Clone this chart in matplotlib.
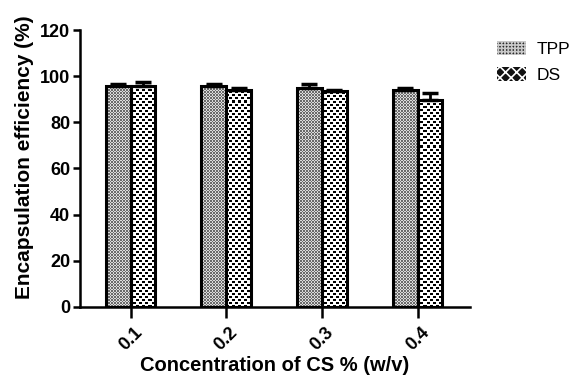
import matplotlib.pyplot as plt
import numpy as np

plt.rcParams['font.family'] = ['Liberation Sans', 'DejaVu Sans']
plt.rcParams['hatch.linewidth'] = 1.2

categories = ['0.1', '0.2', '0.3', '0.4']
tpp = [95.8, 95.9, 95.0, 94.0]
tpp_err = [1.0, 0.5, 1.5, 0.8]
ds = [95.8, 94.2, 93.4, 89.8]
ds_err = [1.6, 0.6, 0.8, 3.0]

fig = plt.figure(figsize=(5.79, 3.85), dpi=100)
ax = fig.add_axes([0.138, 0.203, 0.674, 0.719])

x = np.arange(len(categories))
w = 0.26

ax.set_xlim(-0.53, 3.55)
ax.set_ylim(0, 120)

b1 = ax.bar(x - w / 2, tpp, w, color='#a8a8a8', linewidth=0, label='TPP', zorder=2)
b2 = ax.bar(x + w / 2, ds, w, color='white', linewidth=0, label='DS', zorder=2)


def fill_pattern(bar, kind):
    # texture image clipped to the bar, one array cell per screen pixel
    x0, y0 = bar.get_xy()
    x1, y1 = x0 + bar.get_width(), y0 + bar.get_height()
    p0 = np.floor(ax.transData.transform((x0, y0)))
    p1 = np.ceil(ax.transData.transform((x1, y1)))
    nw = int(p1[0] - p0[0])
    nh = int(p1[1] - p0[1])
    e0 = ax.transData.inverted().transform(p0)
    e1 = ax.transData.inverted().transform(p0 + [nw, nh])
    i, j = np.mgrid[0:nh, 0:nw]
    if kind == 'fine':
        dark = ((np.floor(i / 1.5) + np.floor(j / 1.5)) % 2 == 0)
        img = np.where(dark, 0.42, 0.86)
    else:
        dark = (((i // 3) + (j // 3)) % 2 == 0) & (i % 3 < 2)
        img = np.where(dark, 0.0, 1.0)
    im = ax.imshow(img, cmap='gray', vmin=0, vmax=1, extent=(e0[0], e1[0], e0[1], e1[1]),
                   aspect='auto', interpolation='nearest', zorder=2.5, origin='lower')
    im.set_clip_path(bar)


for b in b1:
    fill_pattern(b, 'fine')
for b in b2:
    fill_pattern(b, 'coarse')

ax.errorbar(x - w / 2, tpp, yerr=[np.zeros(4), tpp_err], fmt='none', ecolor='black',
            elinewidth=2, capsize=6, capthick=2.5, zorder=3)
ax.errorbar(x + w / 2, ds, yerr=[np.zeros(4), ds_err], fmt='none', ecolor='black',
            elinewidth=2, capsize=6, capthick=2.5, zorder=3)

# black outlines
for b in list(b1) + list(b2):
    r = plt.Rectangle(b.get_xy(), b.get_width(), b.get_height(), fill=False,
                      edgecolor='black', linewidth=2.2, zorder=4)
    ax.add_patch(r)

ax.set_xlim(-0.53, 3.55)
ax.set_ylim(0, 120)
ax.set_yticks([0, 20, 40, 60, 80, 100, 120])
ax.set_xticks(x)
ax.set_xticklabels(categories, rotation=45, ha='center')

ax.spines['top'].set_visible(False)
ax.spines['right'].set_visible(False)
ax.spines['left'].set_linewidth(1.8)
ax.spines['bottom'].set_linewidth(1.8)
ax.tick_params(axis='y', width=1.8, length=5, pad=2)
ax.tick_params(axis='x', width=1.8, length=8, pad=4)
for lab in ax.get_xticklabels() + ax.get_yticklabels():
    lab.set_fontweight('bold')
    lab.set_fontsize(13)

ax.set_ylabel('Encapsulation efficiency (%)', fontsize=15, fontweight='bold')
ax.yaxis.set_label_coords(-0.118, 0.54)
ax.set_xlabel('Concentration of CS % (w/v)', fontsize=14.5, fontweight='bold', labelpad=2)

h1 = plt.Rectangle((0, 0), 1, 1, facecolor='#2a2a2a', edgecolor='#c8c8c8', hatch='+++++',
                   linewidth=0)
h2 = plt.Rectangle((0, 0), 1, 1, facecolor='#111111', edgecolor='white', hatch='xxx',
                   linewidth=0)
fig.legend(handles=[h1, h2], labels=['TPP', 'DS'], loc='upper left',
           bbox_to_anchor=(0.846, 0.912), borderaxespad=0, frameon=False, fontsize=12.5,
           handlelength=1.7, handleheight=0.9, labelspacing=0.55, handletextpad=0.6)

fig.savefig('out.png', dpi=100)
